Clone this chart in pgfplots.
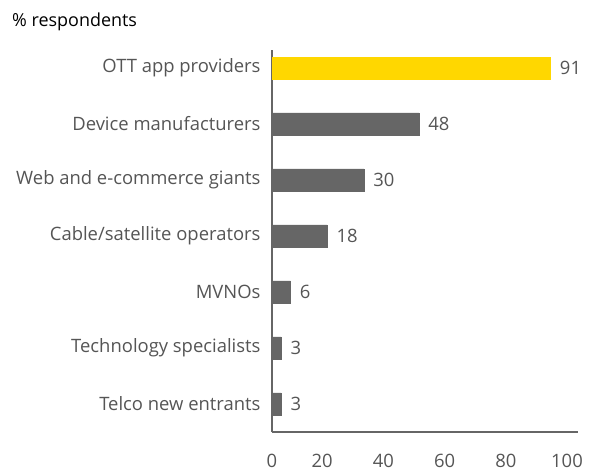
\documentclass[border=0pt]{standalone}
\usepackage{pgfplots}
\pgfplotsset{compat=1.18}
\usepackage{fontspec}
\setmainfont{Open Sans}
\definecolor{barGray}{HTML}{666666}
\definecolor{eyYellow}{HTML}{FFD700}
\definecolor{txtGray}{HTML}{555555}
\definecolor{axGray}{HTML}{666666}
\begin{document}
\begin{tikzpicture}
\useasboundingbox (0,0) rectangle (592bp,473bp);
\node[anchor=base west, font=\fontsize{18}{21}\selectfont, inner sep=0] at (12bp,446bp) {\% respondents};
\begin{axis}[
  at={(272bp,41bp)}, anchor=south west,
  scale only axis, width=306bp, height=382bp,
  xmin=0, xmax=100, ymin=-0.5, ymax=6.32,
  axis x line=bottom, axis y line=left,
  axis line style={-, axGray, line width=1.5bp},
  x axis line style={-}, y axis line style={-},
  major tick length=0pt,
  xtick={0,20,40,60,80,100},
  ytick={0,1,2,3,4,5,6},
  yticklabels={Telco new entrants,Technology specialists,MVNOs,Cable/satellite operators,Web and e-commerce giants,Device manufacturers,OTT app providers},
  /pgf/number format/assume math mode=true,
  tick label style={font=\fontsize{18.5}{21}\selectfont, text=txtGray},
  yticklabel style={xshift=-8bp},
  xticklabel style={yshift=-19bp, xshift={-11bp*min(\ticknum,1)}},
  xbar, bar width=22bp,
  nodes near coords,
  every node near coord/.append style={font=\fontsize{18.5}{21}\selectfont, text=txtGray, xshift=6bp},
  clip=false,
]
\addplot[fill=barGray, draw=barGray, bar shift=0pt] coordinates {(3,0) (3,1) (6,2) (18,3) (30,4) (48,5)};
\addplot[fill=eyYellow, draw=eyYellow, bar shift=0pt] coordinates {(91,6)};
\end{axis}
\end{tikzpicture}
\end{document}
